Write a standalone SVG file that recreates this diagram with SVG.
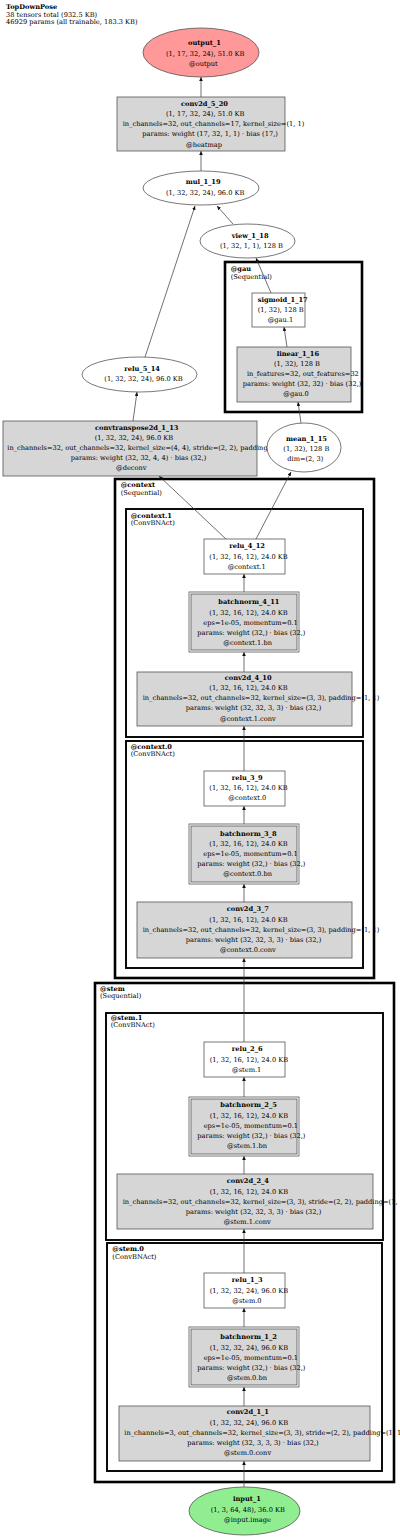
<svg xmlns="http://www.w3.org/2000/svg" width="400" height="1538" viewBox="0 0 400 1538">
<style>
.t{font-family:"DejaVu Serif","Liberation Serif",serif;font-size:6.65px;fill:#000}
.b{font-weight:bold}
.c1{fill:none;stroke:#000;stroke-width:2.6}
.c2{fill:none;stroke:#000;stroke-width:1.9}
.op{fill:#d6d6d6;stroke:#555;stroke-width:0.8}
.wn{fill:#fff;stroke:#555;stroke-width:0.8}
.e{stroke:#333;stroke-width:0.7;fill:none;marker-end:url(#a)}
</style>
<defs>
<marker id="a" markerUnits="userSpaceOnUse" markerWidth="4" markerHeight="3.6" refX="4" refY="1.8" orient="auto">
<path d="M0,0 L4,1.8 L0,3.6 z" fill="#111"/>
</marker>
</defs>
<rect width="400" height="1538" fill="#fff"/>
<g id="title">
<text class="t b" x="6" y="9">TopDownPose</text>
<text class="t" x="6" y="16.7">38 tensors total (932.5 KB)</text>
<text class="t" x="6" y="24.4">46929 params (all trainable, 183.3 KB)</text>
</g>
<g id="clusters">
<g id="cluster_gau"><rect class="c1" x="225" y="262" width="137" height="150"/>
<text class="t b" x="230.7" y="271.3">@gau</text><text class="t" x="230.7" y="278.5">(Sequential)</text></g>
<g id="cluster_context"><rect class="c1" x="115" y="479" width="259" height="499"/>
<text class="t b" x="120.7" y="487.3">@context</text><text class="t" x="120.7" y="494.5">(Sequential)</text></g>
<g id="cluster_context1"><rect class="c2" x="126" y="509" width="237" height="228"/>
<text class="t b" x="130.7" y="517.5">@context.1</text><text class="t" x="130.7" y="524.5">(ConvBNAct)</text></g>
<g id="cluster_context0"><rect class="c2" x="126" y="741" width="237" height="227"/>
<text class="t b" x="130.7" y="748.5">@context.0</text><text class="t" x="130.7" y="755.5">(ConvBNAct)</text></g>
<g id="cluster_stem"><rect class="c1" x="95" y="983" width="299" height="499"/>
<text class="t b" x="100" y="990.5">@stem</text><text class="t" x="100" y="997.5">(Sequential)</text></g>
<g id="cluster_stem1"><rect class="c2" x="106" y="1013" width="277" height="227"/>
<text class="t b" x="110.7" y="1019.8">@stem.1</text><text class="t" x="110.7" y="1026.8">(ConvBNAct)</text></g>
<g id="cluster_stem0"><rect class="c2" x="107" y="1243" width="275" height="228"/>
<text class="t b" x="112.3" y="1251.3">@stem.0</text><text class="t" x="112.3" y="1258.5">(ConvBNAct)</text></g>
</g>
<g id="connectors">
<line class="e" x1="244" y1="1487" x2="244" y2="1461"/>
<line class="e" x1="244" y1="1406" x2="244" y2="1387"/>
<line class="e" x1="244" y1="1327" x2="244" y2="1308"/>
<line class="e" x1="244" y1="1273" x2="244" y2="1229"/>
<line class="e" x1="244" y1="1174" x2="244" y2="1156"/>
<line class="e" x1="244" y1="1097" x2="244" y2="1077"/>
<line class="e" x1="244" y1="1042" x2="244" y2="958"/>
<line class="e" x1="244" y1="902" x2="244" y2="884"/>
<line class="e" x1="244" y1="824" x2="244" y2="806"/>
<line class="e" x1="244" y1="771" x2="244" y2="726"/>
<line class="e" x1="244" y1="672" x2="244" y2="652"/>
<line class="e" x1="244" y1="592" x2="244" y2="574"/>
<line class="e" x1="226" y1="539" x2="159" y2="476"/>
<line class="e" x1="256" y1="539" x2="291" y2="472"/>
<line class="e" x1="133" y1="421" x2="137" y2="392"/>
<line class="e" x1="301" y1="423" x2="298" y2="402"/>
<line class="e" x1="287" y1="347" x2="284" y2="327"/>
<line class="e" x1="271" y1="293" x2="256" y2="258"/>
<line class="e" x1="145" y1="357" x2="195" y2="206"/>
<line class="e" x1="233" y1="224" x2="217" y2="206"/>
<line class="e" x1="201" y1="171" x2="201" y2="151"/>
<line class="e" x1="201" y1="97" x2="201" y2="77"/>
</g>
<g id="output_1"><ellipse cx="201" cy="52.5" rx="58" ry="24.5" fill="#ff9999" stroke="#555" stroke-width="0.8"/>
<text class="t b" x="188" y="45.4">output_1</text><text class="t" x="166" y="55.6">(1, 17, 32, 24), 51.0 KB</text><text class="t" x="189" y="65.8">@output</text></g>
<g id="conv2d_5_20"><rect class="op" x="117" y="97" width="168" height="54"/>
<text class="t b" x="181" y="105.8">conv2d_5_20</text><text class="t" x="166" y="116">(1, 17, 32, 24), 51.0 KB</text><text class="t" x="122.7" y="126.2">in_channels=32, out_channels=17, kernel_size=(1, 1)</text><text class="t" x="142.3" y="136.4">params: weight (17, 32, 1, 1) · bias (17,)</text><text class="t" x="186" y="146.6">@heatmap</text></g>
<g id="mul_1_19"><ellipse class="wn" cx="201" cy="188" rx="58" ry="17"/>
<text class="t b" x="185.7" y="184.4">mul_1_19</text><text class="t" x="166" y="194.6">(1, 32, 32, 24), 96.0 KB</text></g>
<g id="view_1_18"><ellipse class="wn" cx="247.5" cy="241" rx="47.5" ry="17"/>
<text class="t b" x="231.7" y="237.6">view_1_18</text><text class="t" x="220" y="247.8">(1, 32, 1, 1), 128 B</text></g>
<g id="sigmoid_1_17"><rect class="wn" x="252" y="293" width="53" height="34"/>
<text class="t b" x="257.7" y="301.5">sigmoid_1_17</text><text class="t" x="257.7" y="311.7">(1, 32), 128 B</text><text class="t" x="267.7" y="321.9">@gau.1</text></g>
<g id="linear_1_16"><rect class="op" x="237" y="347" width="114" height="55"/>
<text class="t b" x="276.7" y="355.5">linear_1_16</text><text class="t" x="274" y="365.7">(1, 32), 128 B</text><text class="t" x="247" y="375.9">in_features=32, out_features=32</text><text class="t" x="242.7" y="386.1">params: weight (32, 32) · bias (32,)</text><text class="t" x="283.3" y="396.3">@gau.0</text></g>
<g id="relu_5_14"><ellipse class="wn" cx="139.5" cy="374.5" rx="57.5" ry="17.5"/>
<text class="t b" x="124.3" y="370.5">relu_5_14</text><text class="t" x="104.3" y="380.7">(1, 32, 32, 24), 96.0 KB</text></g>
<g id="convtranspose2d_1_13"><rect class="op" x="3" y="421" width="254" height="55"/>
<text class="t b" x="95" y="429.5">convtranspose2d_1_13</text><text class="t" x="94.7" y="439.7">(1, 32, 32, 24), 96.0 KB</text><text class="t" x="7.3" y="449.9">in_channels=32, out_channels=32, kernel_size=(4, 4), stride=(2, 2), padding=(1, 1)</text><text class="t" x="70.7" y="460.1">params: weight (32, 32, 4, 4) · bias (32,)</text><text class="t" x="116" y="470.3">@deconv</text></g>
<g id="mean_1_15"><ellipse class="wn" cx="304" cy="447.5" rx="37" ry="24.5"/>
<text class="t b" x="286" y="440.5">mean_1_15</text><text class="t" x="283.3" y="450.7">(1, 32), 128 B</text><text class="t" x="287.3" y="460.9">dim=(2, 3)</text></g>
<g id="relu_4_12"><rect class="wn" x="204" y="539" width="81" height="35"/>
<text class="t b" x="229.3" y="548.4">relu_4_12</text><text class="t" x="209.3" y="558.6">(1, 32, 16, 12), 24.0 KB</text><text class="t" x="227.7" y="568.8">@context.1</text></g>
<g id="batchnorm_4_11"><rect class="wn" x="189" y="592" width="110" height="60"/><rect class="op" x="191" y="594" width="106" height="56"/>
<text class="t b" x="218.3" y="604.4">batchnorm_4_11</text><text class="t" x="209.3" y="614.6">(1, 32, 16, 12), 24.0 KB</text><text class="t" x="203.3" y="624.8">eps=1e-05, momentum=0.1</text><text class="t" x="197.3" y="635">params: weight (32,) · bias (32,)</text><text class="t" x="223.3" y="645.2">@context.1.bn</text></g>
<g id="conv2d_4_10"><rect class="op" x="137" y="672" width="215" height="54"/>
<text class="t b" x="224.7" y="679.8">conv2d_4_10</text><text class="t" x="209.3" y="690">(1, 32, 16, 12), 24.0 KB</text><text class="t" x="142.7" y="700.2">in_channels=32, out_channels=32, kernel_size=(3, 3), padding=(1, 1)</text><text class="t" x="185.7" y="710.4">params: weight (32, 32, 3, 3) · bias (32,)</text><text class="t" x="220" y="720.6">@context.1.conv</text></g>
<g id="relu_3_9"><rect class="wn" x="204" y="771" width="81" height="35"/>
<text class="t b" x="231.7" y="779.6">relu_3_9</text><text class="t" x="209.3" y="789.8">(1, 32, 16, 12), 24.0 KB</text><text class="t" x="228.3" y="800">@context.0</text></g>
<g id="batchnorm_3_8"><rect class="wn" x="189" y="824" width="110" height="60"/><rect class="op" x="191" y="826" width="106" height="56"/>
<text class="t b" x="220" y="835.5">batchnorm_3_8</text><text class="t" x="209.3" y="845.7">(1, 32, 16, 12), 24.0 KB</text><text class="t" x="203.3" y="855.9">eps=1e-05, momentum=0.1</text><text class="t" x="197.3" y="866.1">params: weight (32,) · bias (32,)</text><text class="t" x="223.3" y="876.3">@context.0.bn</text></g>
<g id="conv2d_3_7"><rect class="op" x="137" y="902" width="215" height="56"/>
<text class="t b" x="226.7" y="911.4">conv2d_3_7</text><text class="t" x="209.3" y="921.6">(1, 32, 16, 12), 24.0 KB</text><text class="t" x="142.7" y="931.8">in_channels=32, out_channels=32, kernel_size=(3, 3), padding=(1, 1)</text><text class="t" x="185.7" y="942">params: weight (32, 32, 3, 3) · bias (32,)</text><text class="t" x="220" y="952.2">@context.0.conv</text></g>
<g id="relu_2_6"><rect class="wn" x="204" y="1042" width="81" height="35"/>
<text class="t b" x="231.7" y="1051.4">relu_2_6</text><text class="t" x="209.7" y="1061.6">(1, 32, 16, 12), 24.0 KB</text><text class="t" x="232" y="1071.8">@stem.1</text></g>
<g id="batchnorm_2_5"><rect class="wn" x="189" y="1097" width="110" height="59"/><rect class="op" x="191" y="1099" width="106" height="55"/>
<text class="t b" x="220.3" y="1107.4">batchnorm_2_5</text><text class="t" x="209.7" y="1117.6">(1, 32, 16, 12), 24.0 KB</text><text class="t" x="203.7" y="1127.8">eps=1e-05, momentum=0.1</text><text class="t" x="197.3" y="1138">params: weight (32,) · bias (32,)</text><text class="t" x="227" y="1148.2">@stem.1.bn</text></g>
<g id="conv2d_2_4"><rect class="op" x="117" y="1174" width="256" height="55"/>
<text class="t b" x="226.7" y="1183.4">conv2d_2_4</text><text class="t" x="209.7" y="1193.6">(1, 32, 16, 12), 24.0 KB</text><text class="t" x="122.7" y="1203.8">in_channels=32, out_channels=32, kernel_size=(3, 3), stride=(2, 2), padding=(1, 1)</text><text class="t" x="185.7" y="1214">params: weight (32, 32, 3, 3) · bias (32,)</text><text class="t" x="223.7" y="1224.2">@stem.1.conv</text></g>
<g id="relu_1_3"><rect class="wn" x="204" y="1273" width="81" height="35"/>
<text class="t b" x="231.7" y="1282.4">relu_1_3</text><text class="t" x="209.7" y="1292.6">(1, 32, 32, 24), 96.0 KB</text><text class="t" x="232.3" y="1302.8">@stem.0</text></g>
<g id="batchnorm_1_2"><rect class="wn" x="189" y="1327" width="110" height="60"/><rect class="op" x="191" y="1329" width="106" height="56"/>
<text class="t b" x="220.3" y="1339.4">batchnorm_1_2</text><text class="t" x="209.7" y="1349.6">(1, 32, 32, 24), 96.0 KB</text><text class="t" x="203.7" y="1359.8">eps=1e-05, momentum=0.1</text><text class="t" x="197.3" y="1370">params: weight (32,) · bias (32,)</text><text class="t" x="227" y="1380.2">@stem.0.bn</text></g>
<g id="conv2d_1_1"><rect class="op" x="119" y="1406" width="251" height="55"/>
<text class="t b" x="226.7" y="1414.4">conv2d_1_1</text><text class="t" x="209.7" y="1424.6">(1, 32, 32, 24), 96.0 KB</text><text class="t" x="124.3" y="1434.8">in_channels=3, out_channels=32, kernel_size=(3, 3), stride=(2, 2), padding=(1, 1)</text><text class="t" x="187.3" y="1445">params: weight (32, 3, 3, 3) · bias (32,)</text><text class="t" x="224" y="1455.2">@stem.0.conv</text></g>
<g id="input_1"><ellipse cx="244.5" cy="1511" rx="55.5" ry="24" fill="#90ee90" stroke="#555" stroke-width="0.8"/>
<text class="t b" x="233" y="1501.4">input_1</text><text class="t" x="210.7" y="1511.6">(1, 3, 64, 48), 36.0 KB</text><text class="t" x="224" y="1521.8">@input.image</text></g>
</svg>
